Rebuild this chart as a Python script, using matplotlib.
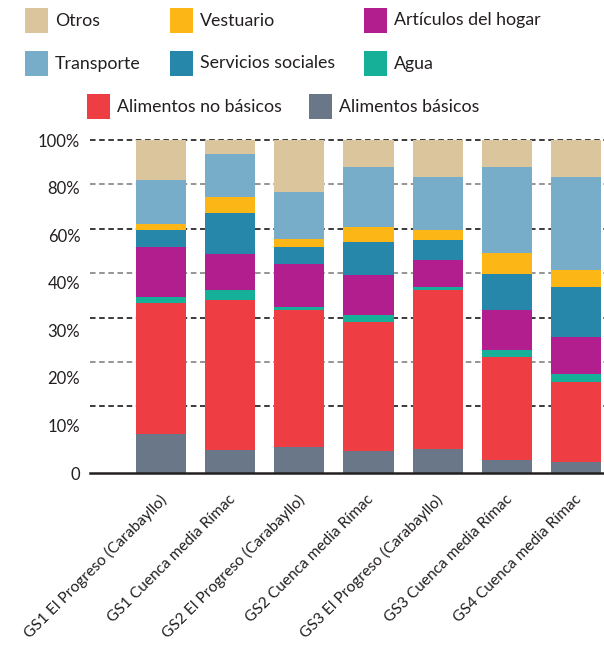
import matplotlib
matplotlib.use("Agg")
import matplotlib.pyplot as plt
import numpy as np
from matplotlib.patches import Rectangle

plt.rcParams['font.family'] = ['Lato', 'DejaVu Sans']
plt.rcParams['lines.scale_dashes'] = False

categories = ["GS1 El Progreso (Carabayllo)", "GS1 Cuenca media Rímac",
              "GS2 El Progreso (Carabayllo)", "GS2 Cuenca media Rímac",
              "GS3 El Progreso (Carabayllo)", "GS3 Cuenca media Rímac",
              "GS4 Cuenca media Rímac"]

# stacked from bottom to top
alimentos_basicos = [11.8, 7.0, 7.8, 6.5, 7.1, 4.0, 3.4]
alimentos_no_basicos = [39.2, 45.0, 41.2, 38.9, 47.9, 30.8, 24.0]
agua = [1.9, 3.0, 0.9, 2.1, 0.9, 2.2, 2.4]
articulos_hogar = [15.0, 10.9, 12.9, 12.0, 8.1, 12.0, 11.1]
servicios_sociales = [5.1, 12.2, 5.1, 9.9, 6.0, 10.8, 15.0]
vestuario = [1.8, 4.8, 2.4, 4.5, 3.0, 6.3, 5.1]
transporte = [13.2, 12.9, 14.1, 18.0, 15.9, 25.8, 27.9]
otros = [12.0, 4.2, 15.6, 8.1, 11.1, 8.1, 11.1]

ytick_labels = ["0", "10%", "20%", "30%", "40%", "60%", "80%", "100%"]

series = [
    ("Alimentos básicos", alimentos_basicos, "#6a7789"),
    ("Alimentos no básicos", alimentos_no_basicos, "#ee3d43"),
    ("Agua", agua, "#15b097"),
    ("Artículos del hogar", articulos_hogar, "#b31e8e"),
    ("Servicios sociales", servicios_sociales, "#2687ab"),
    ("Vestuario", vestuario, "#fcb716"),
    ("Transporte", transporte, "#77adc9"),
    ("Otros", otros, "#dbc59c"),
]
colors = {name: c for name, _, c in series}

W, H = 604, 648
fig = plt.figure(figsize=(W / 100, H / 100), dpi=100)
ax = fig.add_axes([90 / W, 1 - 473 / H, (W - 90) / W, (473 - 140) / H])

x = np.arange(len(categories))
bottom = np.zeros(len(categories))
for name, vals, c in series:
    ax.bar(x, vals, width=50 / 69, bottom=bottom, color=c, zorder=2, linewidth=0)
    bottom += np.array(vals)

ax.set_xlim(-(161 - 90) / 69, 6 + (604 - 576) / 69)
ax.set_ylim(0, 100)

# dashed gridlines
for k in range(7):
    yv = 100 - k * 40 / 3
    ax.axhline(yv, color="#2b2b2b" if k % 2 == 0 else "#8c8c8c", lw=1.3,
               dashes=(4.0, 2.6), zorder=1, clip_on=False)
ax.axhline(0, color="#231f20", lw=1.8, zorder=3, clip_on=False)

for s in ax.spines.values():
    s.set_visible(False)

ax.set_yticks(np.linspace(0, 100, len(ytick_labels)))
ax.set_yticklabels(ytick_labels, fontsize=12, color="#231f20")
ax.tick_params(axis='y', length=0, pad=7)

ax.set_xticks(x)
ax.set_xticklabels(categories, rotation=45, ha='right', rotation_mode='anchor',
                   fontsize=11.2, color="#231f20")
ax.tick_params(axis='x', length=0, pad=14)
for lbl in ax.get_xticklabels():
    lbl.set_transform(lbl.get_transform() + matplotlib.transforms.ScaledTranslation(-0.02, 0, fig.dpi_scale_trans))

# legend (manual layout)
legend_items = [
    ("Otros", 25, 8), ("Vestuario", 170, 8), ("Artículos del hogar", 364, 8),
    ("Transporte", 25, 51), ("Servicios sociales", 170, 51), ("Agua", 364, 51),
    ("Alimentos no básicos", 87, 94), ("Alimentos básicos", 309, 94),
]
for name, px, py in legend_items:
    fig.patches.append(Rectangle((px / W, 1 - (py + 25) / H), 23 / W, 25 / H,
                                 transform=fig.transFigure, color=colors[name], lw=0))
    fig.text((px + 30) / W, 1 - (py + 12.5) / H, name, fontsize=12.8,
             color="#231f20", va='center', ha='left')

fig.savefig("out.png", dpi=100)
